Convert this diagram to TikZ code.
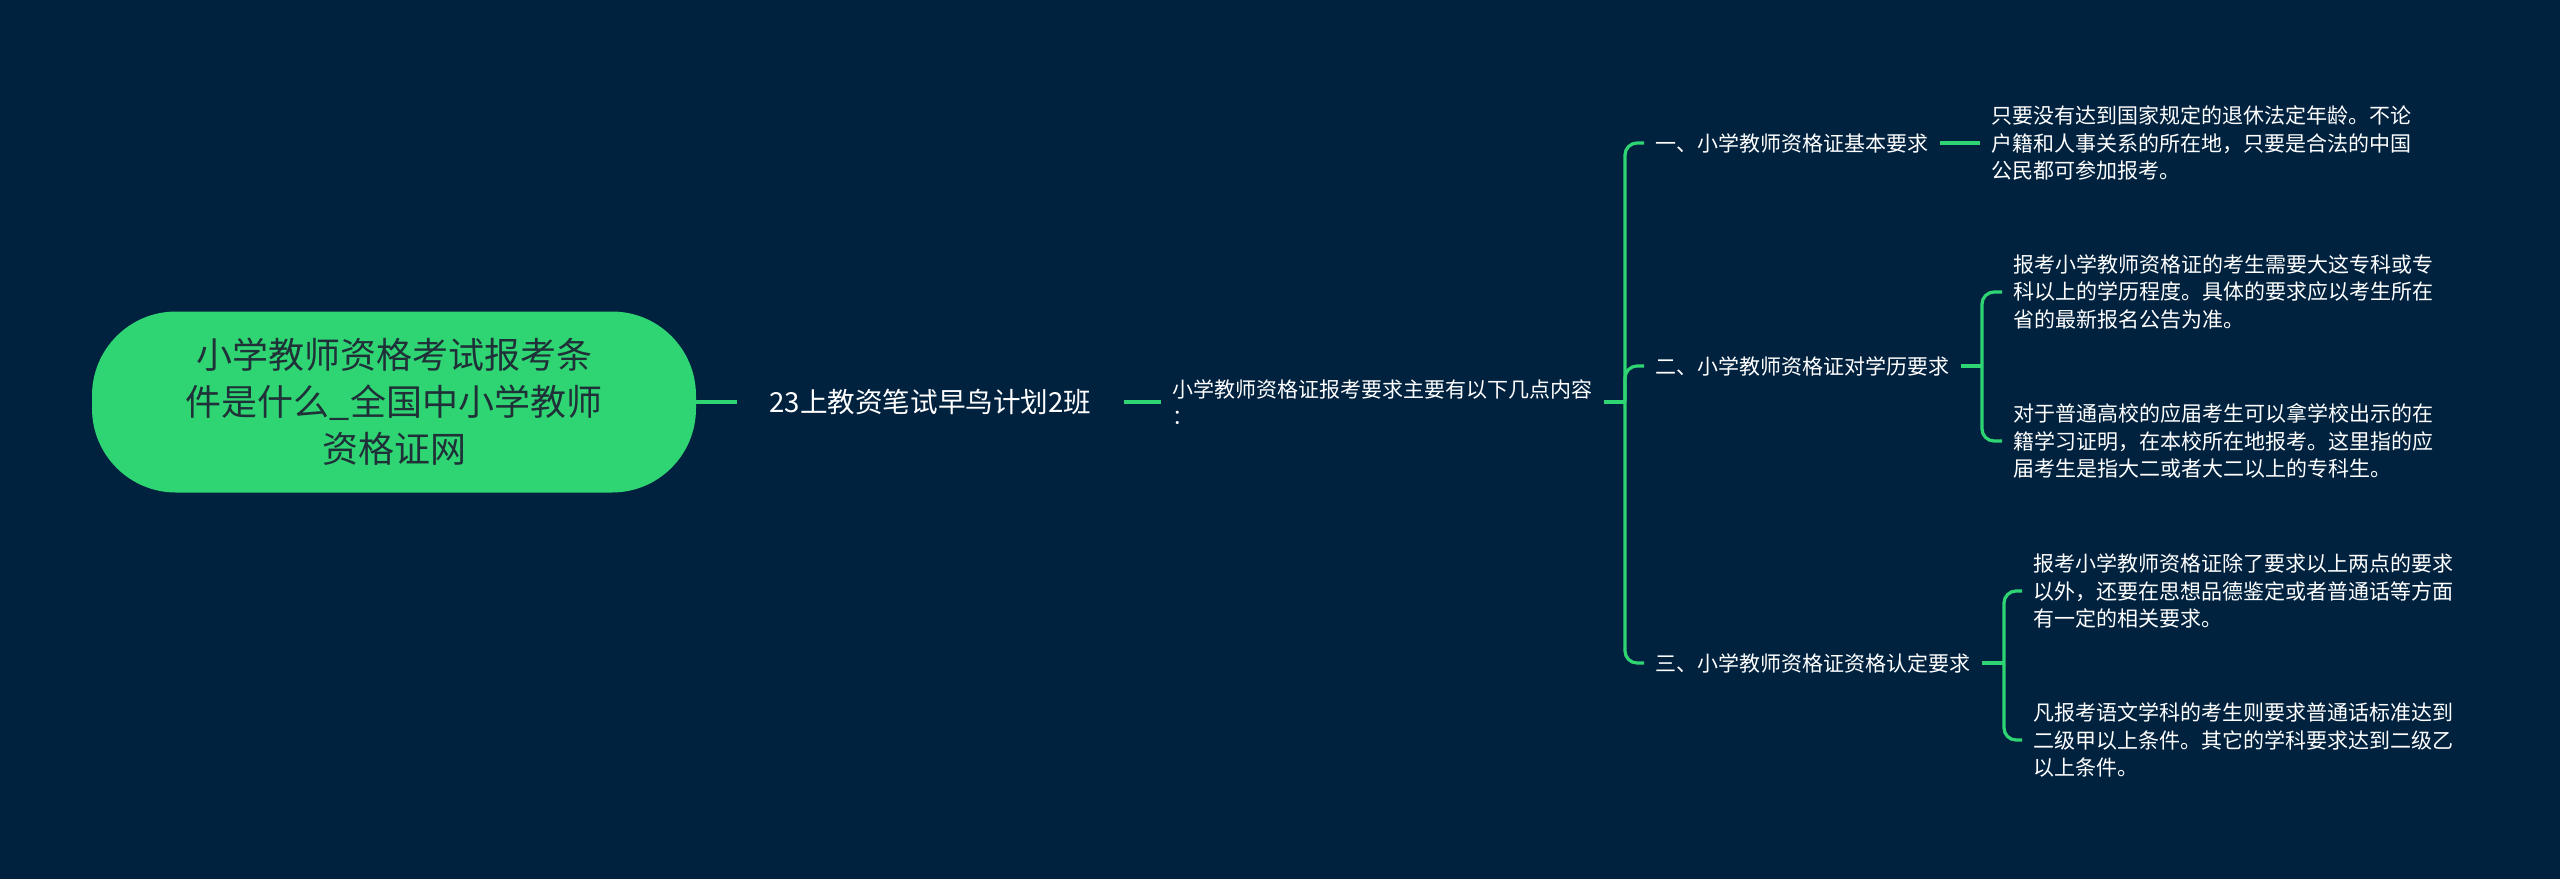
\documentclass[tikz,border=0pt]{standalone}
\usepackage{fontspec}
\setmainfont{Noto Sans CJK SC}
\definecolor{bgc}{HTML}{00223F}
\definecolor{gr}{HTML}{2FD573}
\definecolor{roottxt}{HTML}{1F3038}
\begin{document}
\begin{tikzpicture}[x=0.5pt,y=-0.5pt,
  conn/.style={draw=gr,line width=1.6pt,rounded corners=6pt},
  rootbox/.style={fill=gr,text=roottxt,rounded corners=42pt,minimum width=302pt,minimum height=90.5pt,align=center,inner sep=0pt,font=\fontsize{18}{23.5}\selectfont},
  lone/.style={text=white,anchor=west,inner xsep=16pt,inner ysep=2pt,font=\fontsize{13.8}{17}\selectfont},
  small/.style={text=white,anchor=west,inner xsep=5.5pt,inner ysep=2pt,align=left,font=\fontsize{10.5}{13.75}\selectfont}]
\useasboundingbox (0,0) rectangle (2560,879);
\fill[bgc] (0,0) rectangle (2560,879);
\node[rootbox] (root) at (394,402) {小学教师资格考试报考条\\件是什么\_全国中小学教师\\资格证网};
\node[lone] (l1) at (737,402) {23上教资笔试早鸟计划2班};
\node[small] (l2) at (1161,402) {小学教师资格证报考要求主要有以下几点内容\\：};
\node[small] (b1) at (1644,143) {一、小学教师资格证基本要求};
\node[small] (b2) at (1644,366) {二、小学教师资格证对学历要求};
\node[small] (b3) at (1644,663) {三、小学教师资格证资格认定要求};
\node[small] (f1) at (1980,143) {只要没有达到国家规定的退休法定年龄。不论\\户籍和人事关系的所在地，只要是合法的中国\\公民都可参加报考。};
\node[small] (f2a) at (2002,292) {报考小学教师资格证的考生需要大这专科或专\\科以上的学历程度。具体的要求应以考生所在\\省的最新报名公告为准。};
\node[small] (f2b) at (2002,441) {对于普通高校的应届考生可以拿学校出示的在\\籍学习证明，在本校所在地报考。这里指的应\\届考生是指大二或者大二以上的专科生。};
\node[small] (f3a) at (2022,591) {报考小学教师资格证除了要求以上两点的要求\\以外，还要在思想品德鉴定或者普通话等方面\\有一定的相关要求。};
\node[small] (f3b) at (2022,740) {凡报考语文学科的考生则要求普通话标准达到\\二级甲以上条件。其它的学科要求达到二级乙\\以上条件。};
\coordinate (t2) at (1625,402);
\coordinate (tb2) at (1982,366);
\coordinate (tb3) at (2004,663);
\draw[conn] (root.east) -- (l1.west);
\draw[conn] (l1.east) -- (l2.west);
\draw[conn] (l2.east) -- (t2);
\draw[conn] (t2) |- (b1.west);
\draw[conn] (t2) |- (b2.west);
\draw[conn] (t2) |- (b3.west);
\draw[conn] (b1.east) -- (f1.west);
\draw[conn] (b2.east) -- (tb2);
\draw[conn] (tb2) |- (f2a.west);
\draw[conn] (tb2) |- (f2b.west);
\draw[conn] (b3.east) -- (tb3);
\draw[conn] (tb3) |- (f3a.west);
\draw[conn] (tb3) |- (f3b.west);
\end{tikzpicture}
\end{document}
